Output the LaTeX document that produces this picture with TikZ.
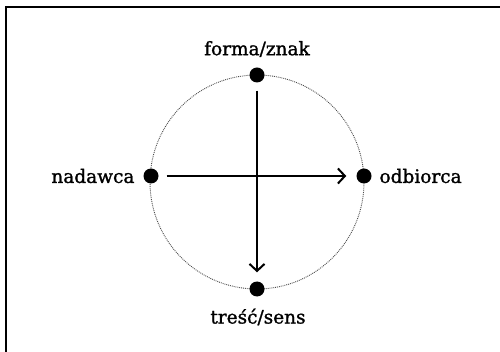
\documentclass[tikz,border=0pt]{standalone}
\usepackage{fontspec}
\setmainfont{DejaVu Serif}
\newfontfamily\etfont[BoldFont={DejaVu Serif}, BoldFeatures={FakeBold=1.3}]{DejaVu Serif}
\usetikzlibrary{arrows.meta}
\begin{document}
\begin{tikzpicture}[x=1pt, y=-1pt, >={Straight Barb[length=7pt,width=15pt]},
        punkt/.style={circle, fill=black, inner sep=0pt, minimum size=15pt},
        etykieta/.style={font=\etfont\bfseries\fontsize{18.5}{22}\selectfont}]
        \useasboundingbox (0,0) rectangle (500,352);
        % Ramka
        \draw[line width=2.2pt] (6,352) -- (6,7) -- (500,7);
        
        % Okrag komunikacji
        \draw[densely dotted, gray!60!black, line width=0.9pt] (257,182) circle (107pt);
        
        % Punkty na okregu
        \node[punkt] (forma) at (257,75) {};
        \node[punkt] (tresc) at (257,289) {};
        \node[punkt] (nadawca) at (151,176) {};
        \node[punkt] (odbiorca) at (364,176) {};
        
        % Etykiety
        \node[etykieta] (lforma) at (257,49) {forma/znak};
        \node[etykieta] (ltresc) at (258,317) {treść/sens};
        \node[etykieta, anchor=east] (lnadawca) at (138,176) {nadawca};
        \node[etykieta, anchor=west] (lodbiorca) at (376,176) {odbiorca};
        
        % Strzalki
        \draw[->, line width=2pt, shorten <=8pt, shorten >=9pt] (forma) -- (tresc);
        \draw[->, line width=2pt, shorten <=8pt, shorten >=10pt] (nadawca) -- (odbiorca);
    \end{tikzpicture}
\end{document}
